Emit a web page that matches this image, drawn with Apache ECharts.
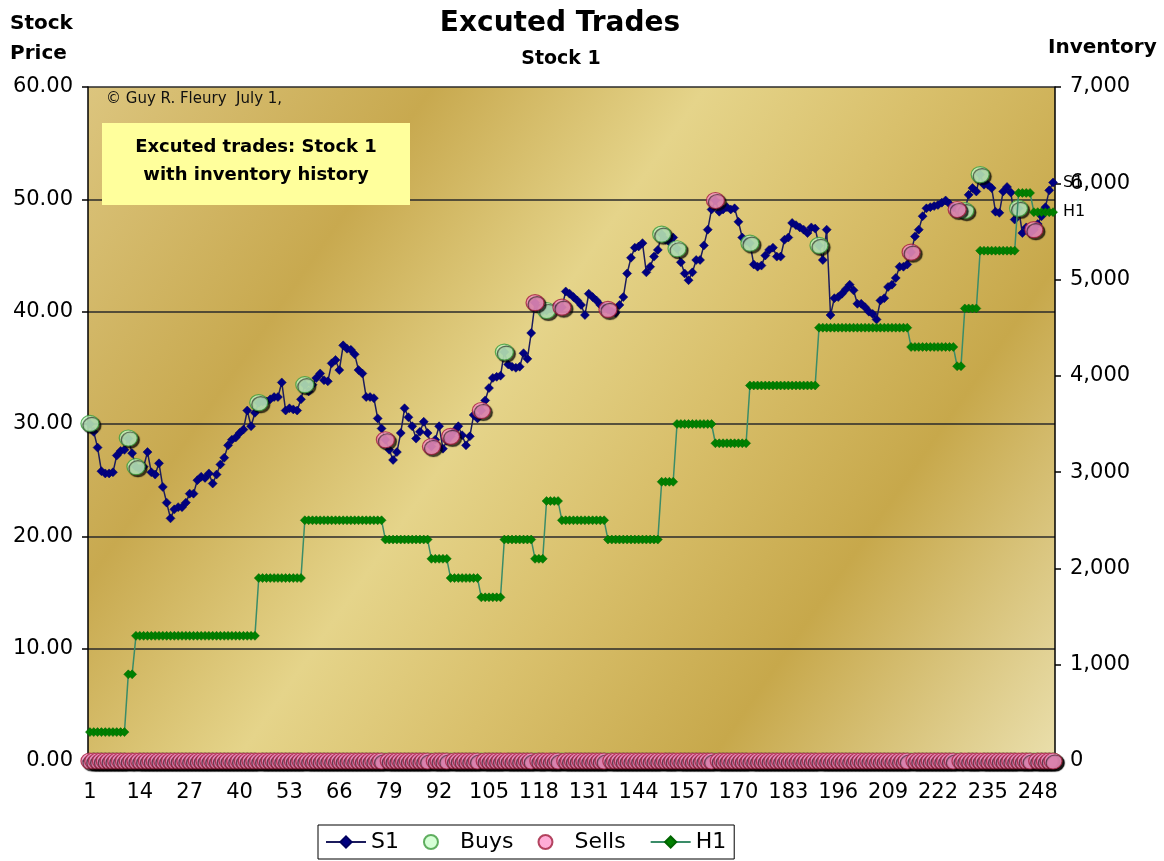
<!DOCTYPE html>
<html>
<head>
<meta charset="utf-8">
<script src="https://cdn.jsdelivr.net/npm/echarts@6/dist/echarts.min.js"></script>
<style>
html,body{margin:0;padding:0;background:#fff;}
#chart{width:1164px;height:861px;}
</style>
</head>
<body>
<div id="chart"></div>
<script>
// ---- data ----
const categories = Array.from({length: 252}, (_, i) => String(i + 1));

const s1Price = [
 30.0,29.3,27.9,25.8,25.6,25.6,25.7,27.2,27.6,27.7,
 28.7,27.4,26.2,26.0,26.2,27.5,25.7,25.5,26.5,24.4,
 23.0,21.6,22.4,22.6,22.6,23.0,23.8,23.8,25.0,25.3,
 25.2,25.6,24.7,25.5,26.4,27.0,28.1,28.6,28.8,29.2,
 29.5,31.2,29.8,31.0,31.9,32.0,32.0,32.2,32.4,32.4,
 33.7,31.2,31.4,31.3,31.2,32.2,33.5,32.9,33.5,34.1,
 34.5,33.9,33.8,35.4,35.7,34.8,37.0,36.7,36.6,36.2,
 34.8,34.5,32.4,32.4,32.3,30.5,29.6,28.6,27.7,26.8,
 27.5,29.2,31.4,30.6,29.8,28.7,29.3,30.2,29.2,28.0,
 28.6,29.8,27.8,28.5,28.9,29.4,29.8,29.0,28.1,28.9,
 30.8,30.5,31.2,32.1,33.2,34.1,34.2,34.3,36.4,35.3,
 35.1,35.0,35.1,36.3,35.8,38.1,40.8,40.3,40.1,40.1,
 40.3,40.4,40.2,40.4,41.8,41.6,41.3,41.0,40.6,39.7,
 41.6,41.3,41.0,40.6,40.4,40.2,40.0,39.9,40.6,41.3,
 43.4,44.8,45.7,45.8,46.1,43.5,44.0,44.9,45.5,46.9,
 46.4,46.2,46.6,45.6,44.4,43.4,42.8,43.5,44.6,44.6,
 45.9,47.3,49.1,49.9,48.9,49.1,49.3,49.1,49.2,48.0,
 46.6,46.3,46.1,44.2,44.0,44.1,45.0,45.5,45.7,44.9,
 44.9,46.4,46.6,47.9,47.7,47.5,47.3,47.0,47.5,47.4,
 45.9,44.6,47.3,39.7,41.2,41.3,41.6,42.0,42.4,41.9,
 40.7,40.7,40.4,40.0,39.8,39.3,41.0,41.2,42.2,42.4,
 43.0,44.0,44.0,44.2,45.3,46.7,47.3,48.5,49.2,49.3,
 49.4,49.5,49.7,49.9,49.6,49.3,49.1,49.2,49.0,50.4,
 51.0,50.7,52.2,51.3,51.3,51.0,48.9,48.8,50.7,51.1,
 50.6,48.2,49.2,47.0,47.5,47.0,47.3,47.8,48.5,49.3,
 50.8,51.5
];

const h1Inventory = [
 300,300,300,300,300,300,300,300,300,300,
 900,900,1300,1300,1300,1300,1300,1300,1300,1300,
 1300,1300,1300,1300,1300,1300,1300,1300,1300,1300,
 1300,1300,1300,1300,1300,1300,1300,1300,1300,1300,
 1300,1300,1300,1300,1900,1900,1900,1900,1900,1900,
 1900,1900,1900,1900,1900,1900,2500,2500,2500,2500,
 2500,2500,2500,2500,2500,2500,2500,2500,2500,2500,
 2500,2500,2500,2500,2500,2500,2500,2300,2300,2300,
 2300,2300,2300,2300,2300,2300,2300,2300,2300,2100,
 2100,2100,2100,2100,1900,1900,1900,1900,1900,1900,
 1900,1900,1700,1700,1700,1700,1700,1700,2300,2300,
 2300,2300,2300,2300,2300,2300,2100,2100,2100,2700,
 2700,2700,2700,2500,2500,2500,2500,2500,2500,2500,
 2500,2500,2500,2500,2500,2300,2300,2300,2300,2300,
 2300,2300,2300,2300,2300,2300,2300,2300,2300,2900,
 2900,2900,2900,3500,3500,3500,3500,3500,3500,3500,
 3500,3500,3500,3300,3300,3300,3300,3300,3300,3300,
 3300,3300,3900,3900,3900,3900,3900,3900,3900,3900,
 3900,3900,3900,3900,3900,3900,3900,3900,3900,3900,
 4500,4500,4500,4500,4500,4500,4500,4500,4500,4500,
 4500,4500,4500,4500,4500,4500,4500,4500,4500,4500,
 4500,4500,4500,4500,4300,4300,4300,4300,4300,4300,
 4300,4300,4300,4300,4300,4300,4100,4100,4700,4700,
 4700,4700,5300,5300,5300,5300,5300,5300,5300,5300,
 5300,5300,5900,5900,5900,5900,5700,5700,5700,5700,
 5700,5700
];

const buyDays   = [1, 11, 13, 45, 57, 109, 120, 150, 154, 173, 191, 229, 233, 243];
const buyPrices = [30.05, 28.75, 26.2, 31.9, 33.5, 36.4, 40.1, 46.9, 45.6, 46.1, 45.9, 49.0, 52.2, 49.2];
const sellDays   = [78, 90, 95, 103, 117, 124, 136, 164, 215, 227, 247];
const sellPrices = [28.6, 28.0, 28.9, 31.2, 40.8, 40.4, 40.2, 49.9, 45.3, 49.1, 47.3];

const priceTicks = ['0.00','10.00','20.00','30.00','40.00','50.00','60.00'];
const inventoryTicks = ['0','1,000','2,000','3,000','4,000','5,000','6,000','7,000'];

// ---- build series values from the arrays ----
const buysData = categories.map((c, i) => {
  const k = buyDays.indexOf(i + 1);
  return k >= 0 ? buyPrices[k] : 0;
});
const sellsData = categories.map((c, i) => {
  const k = sellDays.indexOf(i + 1);
  return k >= 0 ? sellPrices[k] : 0;
});

const FONT = 'DejaVu Sans';
const chart = echarts.init(document.getElementById('chart'), null, {renderer: 'canvas'});

const plotBg = {
  type: 'linear', x: 0, y: 0, x2: 1, y2: 1,
  colorStops: [
    {offset: 0.00, color: '#DCC57E'},
    {offset: 0.24, color: '#C8A94F'},
    {offset: 0.43, color: '#E5D48A'},
    {offset: 0.58, color: '#D9C06C'},
    {offset: 0.76, color: '#C7A84B'},
    {offset: 1.00, color: '#EADFAC'}
  ]
};

const circleShadow = {
  shadowColor: 'rgba(0,0,0,0.85)', shadowBlur: 1, shadowOffsetX: 2, shadowOffsetY: 2
};

const option = {
  animation: false,
  backgroundColor: '#ffffff',
  textStyle: {fontFamily: FONT},
  title: [
    {text: 'Excuted Trades', left: 555, top: 5, textAlign: 'center',
     textStyle: {fontFamily: FONT, fontSize: 28, fontWeight: 'bold', color: '#000'}},
    {text: 'Stock 1', left: 556, top: 45, textAlign: 'center',
     textStyle: {fontFamily: FONT, fontSize: 19, fontWeight: 'bold', color: '#000'}}
  ],
  legend: {
    data: [
      {name: 'S1'},
      {name: 'Buys', textStyle: {padding: [0, 0, 0, 4]}},
      {name: 'Sells', textStyle: {padding: [0, 0, 0, 4]}},
      {name: 'H1'}
    ],
    left: 318, top: 825,
    orient: 'horizontal',
    itemGap: 24, itemWidth: 40, itemHeight: 14,
    padding: [6, 8, 6, 7],
    borderColor: '#000', borderWidth: 1, backgroundColor: '#fff',
    textStyle: {fontFamily: FONT, fontSize: 22, color: '#000'}
  },
  grid: {
    left: 88, top: 87, width: 967, height: 674,
    show: true, backgroundColor: plotBg, borderWidth: 0
  },
  xAxis: {
    type: 'category',
    data: categories,
    boundaryGap: true,
    axisLine: {show: true, lineStyle: {color: '#000', width: 1.5}},
    axisTick: {show: false},
    axisLabel: {interval: 12, fontFamily: FONT, fontSize: 21, color: '#000', margin: 21},
    splitLine: {show: false}
  },
  yAxis: [
    {
      type: 'value', min: 0, max: 60, interval: 10, position: 'left',
      axisLine: {show: true, lineStyle: {color: '#000', width: 1.5}},
      axisTick: {show: true, length: 6, lineStyle: {color: '#000', width: 1.5}},
      axisLabel: {fontFamily: FONT, fontSize: 21, color: '#000', margin: 15,
                  formatter: (v) => priceTicks[Math.round(v / 10)]},
      splitLine: {show: true, lineStyle: {color: '#2a2a2a', width: 1.5}}
    },
    {
      type: 'value', min: 0, max: 7000, interval: 1000, position: 'right',
      axisLine: {show: true, lineStyle: {color: '#000', width: 1.5}},
      axisTick: {show: true, length: 6, lineStyle: {color: '#000', width: 1.5}},
      axisLabel: {fontFamily: FONT, fontSize: 21, color: '#000', margin: 15,
                  formatter: (v) => inventoryTicks[Math.round(v / 1000)]},
      splitLine: {show: false}
    }
  ],
  series: [
    {
      name: 'S1', type: 'line', data: s1Price, yAxisIndex: 0,
      symbol: 'diamond', symbolSize: 9, showSymbol: true, showAllSymbol: true,
      lineStyle: {color: '#1c1c5c', width: 1.5},
      itemStyle: {color: '#000080', borderColor: '#000060', borderWidth: 0.5},
      endLabel: {show: true, formatter: 'S1', color: '#000', fontFamily: FONT, fontSize: 16, distance: 10},
      z: 3
    },
    {
      name: 'Buys', type: 'scatter', data: buysData, yAxisIndex: 0,
      symbol: 'circle', symbolSize: [18, 16], clip: false,
      itemStyle: Object.assign({color: '#CCFFCC', borderColor: '#3C9A3C', borderWidth: 1.2}, circleShadow),
      z: 4
    },
    {
      name: 'Sells', type: 'scatter', data: sellsData, yAxisIndex: 0,
      symbol: 'circle', symbolSize: [18, 16], clip: false,
      itemStyle: Object.assign({color: '#FF99CC', borderColor: '#A01E3C', borderWidth: 1.2}, circleShadow),
      z: 4
    },
    {
      name: 'H1', type: 'line', data: h1Inventory, yAxisIndex: 1,
      symbol: 'diamond', symbolSize: 9, showSymbol: true, showAllSymbol: true,
      lineStyle: {color: '#3A8C68', width: 1.5},
      itemStyle: {color: '#008000', borderColor: '#006400', borderWidth: 0.5},
      endLabel: {show: true, formatter: 'H1', color: '#000', fontFamily: FONT, fontSize: 16, distance: 10},
      z: 5
    }
  ],
  graphic: [
    {type: 'text', left: 10, top: 9,
     style: {text: 'Stock\nPrice', font: 'bold 20px "DejaVu Sans"', fill: '#000', lineHeight: 30}},
    {type: 'text', left: 1048, top: 38,
     style: {text: 'Inventory', font: 'bold 20px "DejaVu Sans"', fill: '#000'}},
    {type: 'text', left: 106, top: 92, z: 10,
     style: {text: '\u00A9 Guy R. Fleury  July 1,', font: '15px "DejaVu Sans"', fill: '#111'}},
    {type: 'rect', shape: {x: 102, y: 123, width: 308, height: 82}, z: 10,
     style: {fill: '#FFFF9C'}},
    {type: 'text', x: 256, y: 147, z: 11,
     style: {text: 'Excuted trades: Stock 1', font: 'bold 18px "DejaVu Sans"', fill: '#000',
             textAlign: 'center', textVerticalAlign: 'middle'}},
    {type: 'text', x: 256, y: 175, z: 11,
     style: {text: 'with inventory history', font: 'bold 18px "DejaVu Sans"', fill: '#000',
             textAlign: 'center', textVerticalAlign: 'middle'}}
  ]
};

chart.setOption(option);
</script>
</body>
</html>
